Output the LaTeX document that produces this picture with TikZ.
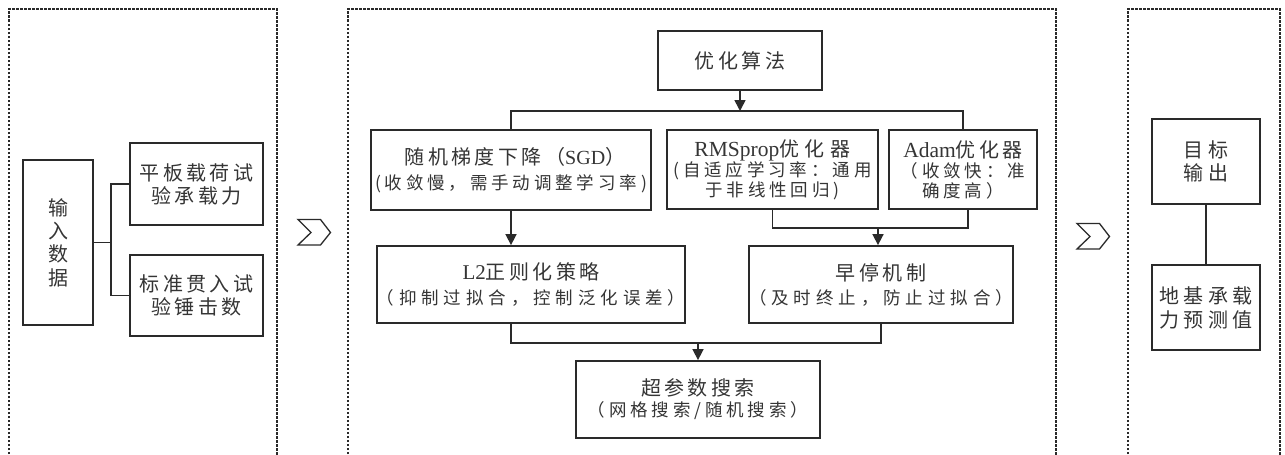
\documentclass[tikz,border=0pt]{standalone}
\usepackage{fontspec}
\usetikzlibrary{arrows.meta}
\newfontfamily\cjkA[LetterSpace=17]{Noto Sans CJK SC}
\newfontfamily\cjkB[LetterSpace=22]{Noto Sans CJK SC}
\newfontfamily\cjkC[LetterSpace=28]{Noto Sans CJK SC}
\newfontfamily\latf{Liberation Serif}
\newcommand\fbig{\cjkA\fontsize{20}{24}\selectfont}
\newcommand\fbw{\cjkC\fontsize{20}{24}\selectfont}
\newcommand\fsml{\cjkB\fontsize{17.5}{20}\selectfont}
\newcommand\fsmw{\cjkC\fontsize{17.5}{20}\selectfont}
\newcommand\latb[2]{{\latf\fontsize{#1}{24}\selectfont #2}}
\definecolor{ink}{HTML}{2A2A2A}
\definecolor{txt}{HTML}{353535}
\begin{document}
\begin{tikzpicture}[x=1pt,y=-1pt,
  box/.style={draw=ink, line width=1.8pt, text=txt, align=center, inner sep=0pt},
  conn/.style={draw=ink, line width=1.6pt},
  arr/.style={conn, -{Triangle[length=11pt,width=11pt]}},
  frame/.style={draw=ink, line width=1.3pt, dash pattern=on 2.5pt off 1.5pt},
  chev/.style={draw=ink, line width=1.3pt, line join=miter}]
\useasboundingbox (0,0) rectangle (1285,455);
\fill[white] (0,0) rectangle (1285,455);
% frames (open at the bottom edge of the picture)
\begin{scope}
\clip (0,0) rectangle (1285,455);
\draw[frame] (9,470) -- (9,9) -- (277,9) -- (277,470);
\draw[frame] (348,470) -- (348,9) -- (1056,9) -- (1056,470);
\draw[frame] (1128,470) -- (1128,9) -- (1280,9) -- (1280,470);
\end{scope}
% chevrons
\draw[chev] (298,219.5) -- (320.5,219.5) -- (330.5,232.5) -- (320.5,245) -- (298,245) -- (311,232.5) -- cycle;
\draw[chev] (1077,223.5) -- (1099.5,223.5) -- (1109.5,236.5) -- (1099.5,249) -- (1077,249) -- (1090,236.5) -- cycle;
% left panel
\node[box, minimum width=70pt, minimum height=165pt, font=\cjkA\fontsize{20}{23.3}\selectfont] (inp) at (58,242.5) {输\\入\\数\\据};
\node[box, minimum width=133pt, minimum height=82pt, font=\fbig\fontsize{20}{23}\selectfont] (b1) at (196.5,184) {平板载荷试\\验承载力};
\node[box, minimum width=133pt, minimum height=81pt, font=\fbig\fontsize{20}{23}\selectfont] (b2) at (196.5,295.5) {标准贯入试\\验锤击数};
\coordinate (lb) at (111,0);
\draw[conn] (inp.east) -- (inp.east -| lb);
\draw[conn] (b1.west) -| (lb |- b2.west) -- (b2.west);
% middle panel
\node[box, minimum width=164pt, minimum height=59pt, font=\fbig] (opt) at (740,60.5) {优化算法};
\node[box, minimum width=280pt, minimum height=80pt, font=\fbig\fontsize{20}{25}\selectfont] (sgd) at (511,170) {\hspace*{8pt}随机梯度下降（\latb{20}{SGD}）\\\fsml (收敛慢，需手动调整学习率)};
\node[box, minimum width=211pt, minimum height=79pt, font=\fsml\fontsize{17.5}{19.5}\selectfont] (rms) at (772.5,169.5) {\latb{21.5}{RMSprop}{\fbw 优化器}\\[1pt](自适应学习率：通用\\于非线性回归)};
\node[box, minimum width=148pt, minimum height=79pt, font=\fsml\fontsize{17.5}{19.5}\selectfont] (adam) at (963,169.5) {\latb{21.5}{Adam}{\fbig 优化器}\\[1pt]（收敛快：准\\确度高）};
\node[box, minimum width=308pt, minimum height=77pt, font=\fbig\fontsize{20}{25}\selectfont] (l2) at (531,284.5) {\latb{21}{L2}正则化策略\\\fsmw（抑制过拟合，控制泛化误差）};
\node[box, minimum width=248pt, minimum height=77pt, font=\fbig\fontsize{20}{24}\selectfont] (stop) at (881,284.5) {早停机制\\\fsmw（及时终止，防止过拟合）};
\node[box, minimum width=244pt, minimum height=77pt, font=\fbig\fontsize{20}{21}\selectfont] (hyp) at (698,399.5) {超参数搜索\\\fsml（网格搜索/随机搜索）};
% middle connectors
\coordinate (bus1) at (740,111);
\coordinate (bus2) at (0,228);
\coordinate (bus3) at (0,343);
\coordinate (adb) at ([xshift=5pt]adam.south);
\coordinate (stn) at ([xshift=-3pt]stop.north);
\draw[arr] (opt.south) -- (opt.south |- bus1);
\draw[conn] (sgd.north) |- (bus1) -| (adam.north);
\draw[arr] (sgd.south) -- (sgd.south |- l2.north);
\draw[conn] (rms.south) -- (rms.south |- bus2) -- (adb |- bus2) -- (adb);
\draw[arr] (stn |- bus2) -- (stn);
\draw[conn] (sgd.south |- l2.south) -- (sgd.south |- bus3) -- (stop.south |- bus3) -- (stop.south);
\draw[arr] (hyp.north |- bus3) -- (hyp.north);
% right panel
\node[box, minimum width=108pt, minimum height=85pt, font=\fbw\fontsize{20}{23}\selectfont] (tgt) at (1206,161.5) {目标\\输出};
\node[box, minimum width=108pt, minimum height=85pt, font=\cjkB\fontsize{20}{24}\selectfont] (pred) at (1206,307.5) {地基承载\\力预测值};
\draw[conn] (tgt.south) -- (pred.north);
\end{tikzpicture}
\end{document}
